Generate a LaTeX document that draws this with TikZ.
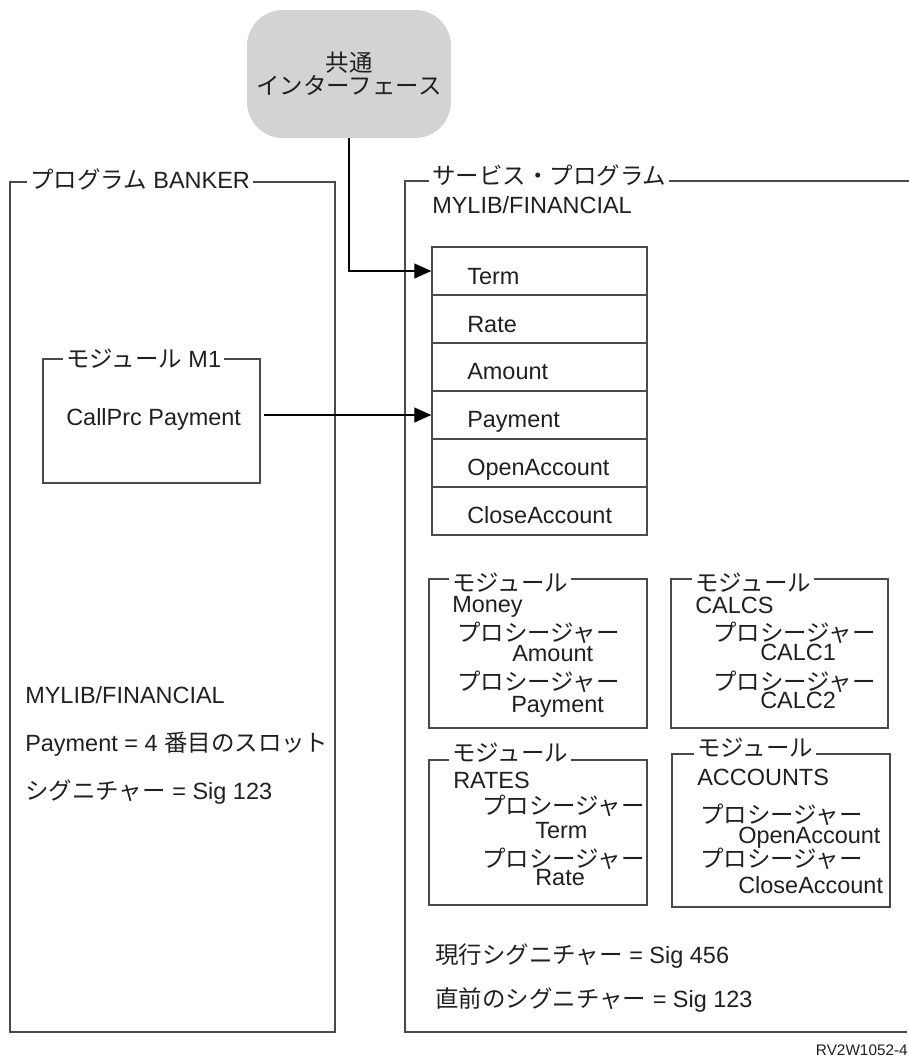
\documentclass[tikz,border=0pt]{standalone}
\usepackage{fontspec}
\setmainfont{Liberation Sans}
\newfontfamily\jpfont{Noto Sans CJK JP}
\newcommand{\J}[1]{{\jpfont #1}}
\usetikzlibrary{arrows.meta}
\definecolor{ink}{HTML}{231F20}
\definecolor{ifgray}{HTML}{D3D3D5}
\definecolor{lineclr}{HTML}{4A4A4A}
\begin{document}
\begin{tikzpicture}[x=0.75pt,y=-0.75pt,
  font=\fontsize{17.6}{20}\selectfont,
  every node/.style={text=ink},
  boxline/.style={draw=lineclr, line width=1.1pt},
  txt/.style={anchor=base west, inner sep=0pt},
  ttl/.style={anchor=base west, fill=white, inner xsep=2.25pt, inner ysep=1pt},
  rowbox/.style={draw=lineclr, line width=1.1pt, minimum width=161.25pt, minimum height=36pt, inner sep=0pt},
  conn/.style={draw=black, line width=0.8pt, -{Triangle[length=12.75pt,width=11.25pt]}}
]
\useasboundingbox (0,0) rectangle (909,1057);

% common interface
\node[fill=ifgray, rounded corners=27pt, minimum width=153pt, minimum height=96pt, inner sep=0pt] (iface) at (349,74) {};
\node[txt, anchor=base] (if1) at (349,71) {\J{共通}};
\node[txt, anchor=base] (if2) at (349,94) {\J{インターフェース}};

% program BANKER
\draw[boxline] (10,182) rectangle (335,1032);
\node[ttl] (tBank) at (27,188) {\J{プログラム} BANKER\hspace{5pt}};

% module M1
\node[rowbox, minimum width=162.75pt, minimum height=93pt] (m1) at (151.5,421) {};
\node[ttl] (tM1) at (63,367) {\J{モジュール} M1};
\node[txt] (cp) at (66,425) {CallPrc Payment};

\node[txt] (b1) at (25,703) {MYLIB/FINANCIAL};
\node[txt] (b2) at (25,751) {Payment = 4 \J{番目のスロット}};
\node[txt] (b3) at (25,799) {\J{シグニチャー} = Sig 123};

% service program
\draw[boxline] (909,181) -- (405,181) -- (405,1032) -- (907,1032);
\node[ttl] (tSvc) at (429,184) {\J{サービス・プログラム}};
\node[txt] (svlib) at (432,213) {MYLIB/FINANCIAL};

% export table
\node[rowbox] (rTerm) at (539.5,271) {};
\node[rowbox] (rRate) at (539.5,319) {};
\node[rowbox] (rAmt)  at (539.5,367) {};
\node[rowbox] (rPay)  at (539.5,415) {};
\node[rowbox] (rOpen) at (539.5,463) {};
\node[rowbox] (rClose) at (539.5,511) {};
\node[txt] (lTerm) at (467,284) {Term};
\node[txt] (lRate) at (467,332) {Rate};
\node[txt] (lAmt) at (467,379) {Amount};
\node[txt] (lPay) at (467,427) {Payment};
\node[txt] (lOpen) at (467,475) {OpenAccount};
\node[txt] (lClose) at (467,523) {CloseAccount};

% module Money
\draw[boxline] (429,579) rectangle (647,728);
\node[ttl] (tMoney) at (449,591) {\J{モジュール}\hspace{4pt}};
\node[txt] (mMoney) at (452,612) {Money};
\node[txt] (mp1) at (457,641) {\J{プロシージャー}};
\node[txt] (mAmt) at (512,661) {Amount};
\node[txt] (mp2) at (457,690) {\J{プロシージャー}};
\node[txt] (mPay) at (511,712) {Payment};

% module CALCS
\draw[boxline] (671,579) rectangle (888,728);
\node[ttl] (tCalcs) at (692,591) {\J{モジュール}\hspace{4pt}};
\node[txt] (cCalcs) at (695,613) {CALCS};
\node[txt] (cp1) at (713,641) {\J{プロシージャー}};
\node[txt] (cC1) at (760,660) {CALC1};
\node[txt] (cp2) at (713,690) {\J{プロシージャー}};
\node[txt] (cC2) at (760,708) {CALC2};

% module RATES
\draw[boxline] (429,760) rectangle (647,905);
\node[ttl] (tRates) at (449,761) {\J{モジュール}\hspace{4pt}};
\node[txt] (rRates) at (453,788) {RATES};
\node[txt] (rp1) at (482,814) {\J{プロシージャー}};
\node[txt] (rTermT) at (535,838) {Term};
\node[txt] (rp2) at (482,867) {\J{プロシージャー}};
\node[txt] (rRateT) at (535,885) {Rate};

% module ACCOUNTS
\draw[boxline] (672,754) rectangle (890,907);
\node[ttl] (tAcc) at (694,756) {\J{モジュール}\hspace{4pt}};
\node[txt] (aAcc) at (697,785) {ACCOUNTS};
\node[txt] (ap1) at (700,823) {\J{プロシージャー}};
\node[txt] (aOpen) at (738,843) {OpenAccount};
\node[txt] (ap2) at (700,867) {\J{プロシージャー}};
\node[txt] (aClose) at (738,893) {CloseAccount};

\node[txt] (sig1) at (435,963) {\J{現行シグニチャー} = Sig 456};
\node[txt] (sig2) at (435,1007) {\J{直前のシグニチャー} = Sig 123};

\node[txt, anchor=base east, font=\fontsize{11.5}{13}\selectfont] (fig) at (908,1055) {RV2W1052-4};

% connectors
\draw[conn] (iface.south) |- (rTerm.west);
\draw[conn] ([xshift=2.25pt]m1.east |- rPay.west) -- (rPay.west);
\end{tikzpicture}
\end{document}
